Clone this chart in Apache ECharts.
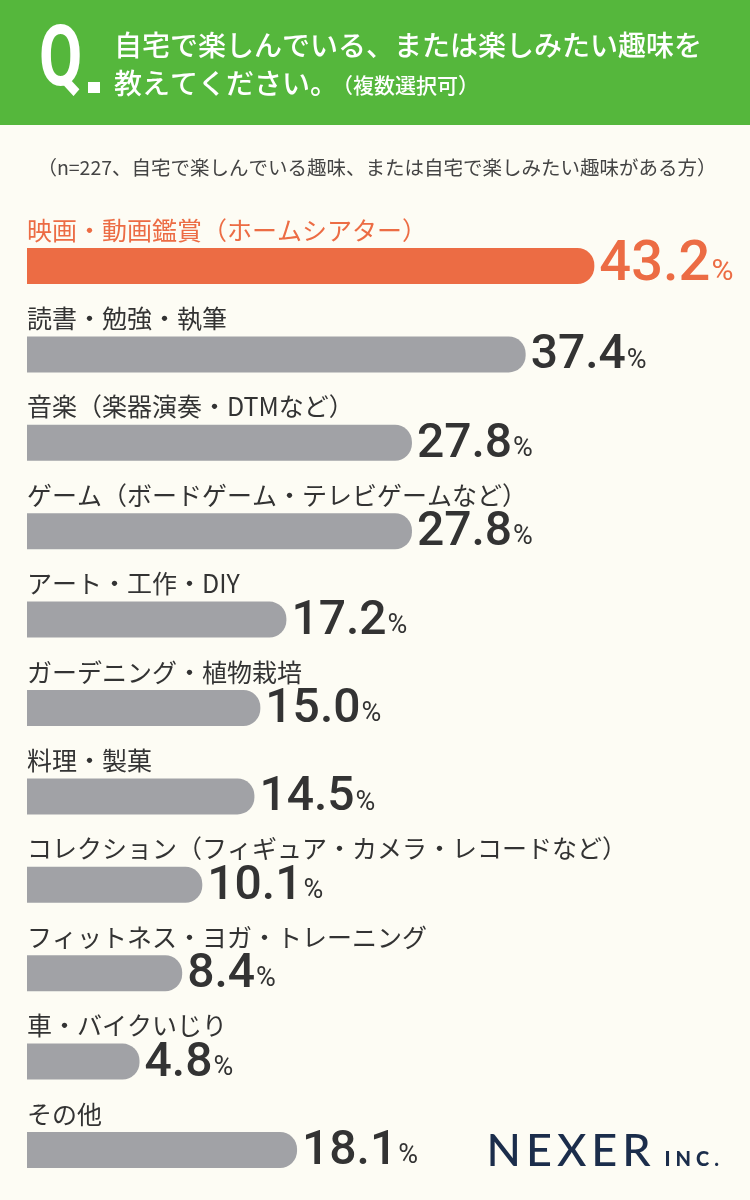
<!DOCTYPE html>
<html><head><meta charset="utf-8">
<script src="https://cdn.jsdelivr.net/npm/echarts@6/dist/echarts.min.js"></script>
<style>html,body{margin:0;padding:0;background:#fdfcf4;}#c{width:750px;height:1200px;}</style>
</head><body><div id="c"></div>
<script>
const categories = ['映画・動画鑑賞（ホームシアター）','読書・勉強・執筆','音楽（楽器演奏・DTMなど）','ゲーム（ボードゲーム・テレビゲームなど）','アート・工作・DIY','ガーデニング・植物栽培','料理・製菓','コレクション（フィギュア・カメラ・レコードなど）','フィットネス・ヨガ・トレーニング','車・バイクいじり','その他'];
const values = [43.2, 37.4, 27.8, 27.8, 17.2, 15.0, 14.5, 10.1, 8.4, 4.8, 18.1];
const titleLine1 = '自宅で楽しんでいる、または楽しみたい趣味を';
const titleLine2a = '教えてください。';
const titleLine2b = '（複数選択可）';
const subtitle = '（n=227、自宅で楽しんでいる趣味、または自宅で楽しみたい趣味がある方）';
const logoMain = 'NEXER';
const logoSub = 'INC.';

const GREEN = '#55b73c', ORANGE = '#ec6c44', GRAY = '#a1a2a6', DARK = '#333333', NAVY = '#1b2d4b';
const JP = '"Noto Sans CJK JP", "Noto Sans", sans-serif';
const NUM = 'Roboto, "Open Sans", sans-serif';
const X_MIN = -4.7, X_MAX = 54.4;

const chart = echarts.init(document.getElementById('c'), null, {renderer: 'canvas'});

function spaced(str, key) {
  return str.split('').map(ch => '{' + key + '|' + ch + '}').join('');
}

function renderItem(params, api) {
  const v = api.value(0), i = api.value(1);
  const p0 = api.coord([X_MIN, i]);
  const p1 = api.coord([v, i]);
  const h = 36;
  const hi = i === 0;
  const col = hi ? ORANGE : GRAY;
  const nSize = hi ? 56 : 48, pSize = hi ? 30 : 27;
  return {
    type: 'group',
    children: [
      {type: 'rect', shape: {x: p0[0], y: p1[1] - h / 2, width: p1[0] - p0[0], height: h, r: [0, 17, 17, 0]}, style: {fill: col}},
      {type: 'text', x: p0[0], y: p1[1] - 36, style: {text: categories[i], fill: hi ? ORANGE : DARK, font: '400 25px ' + JP, verticalAlign: 'middle', align: 'left'}},
      {type: 'text', x: p1[0] + 5, y: p1[1] + h / 2 + (hi ? 10 : 8), style: {
        text: '{n|' + v.toFixed(1) + '}{p|%}', align: 'left', verticalAlign: 'bottom',
        rich: {
          n: {fontFamily: NUM, fontWeight: 500, fontSize: nSize, lineHeight: nSize, fill: hi ? ORANGE : DARK, verticalAlign: 'bottom'},
          p: {fontFamily: NUM, fontWeight: 400, fontSize: pSize, lineHeight: pSize, fill: hi ? ORANGE : DARK, verticalAlign: 'bottom', padding: [0, 0, hi ? 7 : 6, 1]}
        }
      }}
    ]
  };
}

chart.setOption({
  backgroundColor: '#fdfcf4',
  animation: false,
  grid: {left: 27, right: 23, top: 221.8, height: 972.4},
  xAxis: {type: 'value', min: X_MIN, max: X_MAX, show: false},
  yAxis: {type: 'category', data: categories, inverse: true, show: false},
  graphic: [
    {type: 'rect', left: 0, top: 0, shape: {width: 750, height: 125}, style: {fill: GREEN}},
    {type: 'text', x: 39, y: 63, scaleX: 0.73, originX: 0, style: {text: 'Q', fill: '#fff', font: 'bold 86px ' + NUM, verticalAlign: 'middle'}},
    {type: 'rect', shape: {x: 88, y: 82, width: 12, height: 11}, style: {fill: '#fff'}},
    {type: 'text', x: 114, y: 45, style: {text: titleLine1, fill: '#fff', font: '500 28px ' + JP, verticalAlign: 'middle'}},
    {type: 'text', x: 114, y: 83, style: {text: titleLine2a, fill: '#fff', font: '500 28px ' + JP, verticalAlign: 'middle'}},
    {type: 'text', x: 332, y: 85, style: {text: titleLine2b, fill: '#fff', font: '500 21px ' + JP, verticalAlign: 'middle'}},
    {type: 'text', x: 377, y: 168, style: {text: subtitle, fill: '#444', font: '400 19.5px ' + JP, align: 'center', verticalAlign: 'middle'}},
    {type: 'text', x: 484, y: 1151, style: {text: spaced(logoMain, 'a'), verticalAlign: 'middle',
      rich: {a: {fontFamily: 'Lato, ' + NUM, fontWeight: 500, fontSize: 45, fill: NAVY, padding: [0, 2.5, 0, 2.5]}}}},
    {type: 'text', x: 662, y: 1160, style: {text: spaced(logoSub, 'b'), verticalAlign: 'middle',
      rich: {b: {fontFamily: 'Lato, ' + NUM, fontWeight: 900, fontSize: 20, fill: NAVY, padding: [0, 2.5, 0, 2.5]}}}}
  ],
  series: [{
    type: 'custom',
    renderItem: renderItem,
    data: values.map((v, i) => [v, i]),
    encode: {x: 0, y: 1},
    clip: false
  }]
});
</script>
</body></html>
